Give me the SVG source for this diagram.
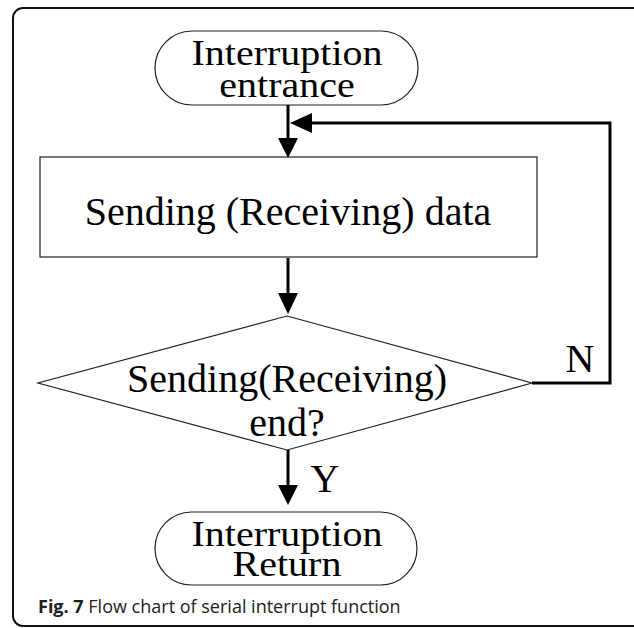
<svg xmlns="http://www.w3.org/2000/svg" width="634" height="628" viewBox="0 0 634 628">
<defs>
<style>
.shape{fill:#fff;stroke:#222;stroke-width:1.2}
.conn{fill:none;stroke:#000;stroke-width:3}
.head{fill:#000}
.lbl{font-family:"Liberation Serif","Times New Roman",serif;font-size:40px;fill:#000;text-anchor:middle}
.cap{font-family:"Open Sans","Noto Sans",sans-serif;font-size:18px;fill:#222}
</style>
</defs>
<rect x="13" y="8" width="640" height="618" rx="10" ry="10" fill="#fff" stroke="#111" stroke-width="2"/>
<g id="start">
<rect class="shape" x="155" y="31" width="263" height="74" rx="37" ry="37"/>
<text class="lbl" transform="translate(287,65) scale(1,0.9)">Interruption</text>
<text class="lbl" transform="translate(287,97) scale(1,0.9)">entrance</text>
</g>
<g id="process">
<rect class="shape" x="40" y="157" width="497" height="100"/>
<text class="lbl" x="288" y="225">Sending (Receiving) data</text>
</g>
<g id="decision">
<polygon class="shape" points="287,316 532,383 287,450 38,383"/>
<text class="lbl" x="287" y="392">Sending(Receiving)</text>
<text class="lbl" x="287" y="436">end?</text>
</g>
<g id="end">
<rect class="shape" x="155" y="512" width="262" height="73" rx="36.5" ry="36.5"/>
<text class="lbl" transform="translate(287,546) scale(1,0.9)">Interruption</text>
<text class="lbl" transform="translate(287,576) scale(1,0.9)">Return</text>
</g>
<g id="connectors">
<line class="conn" x1="288" y1="105" x2="288" y2="140"/>
<polygon class="head" points="278,138 298,138 288,158"/>
<polyline class="conn" points="532,383 610,383 610,123 310,123"/>
<polygon class="head" points="312,113 312,133 290,123"/>
<line class="conn" x1="288" y1="258" x2="288" y2="295"/>
<polygon class="head" points="278,293 298,293 288,314"/>
<line class="conn" x1="288" y1="450" x2="288" y2="487"/>
<polygon class="head" points="278,485 298,485 288,505"/>
<text class="lbl" x="325" y="492">Y</text>
<text class="lbl" x="580" y="372">N</text>
</g>
<text class="cap" x="38" y="613"><tspan font-weight="bold">Fig. 7</tspan> Flow chart of serial interrupt function</text>
</svg>
